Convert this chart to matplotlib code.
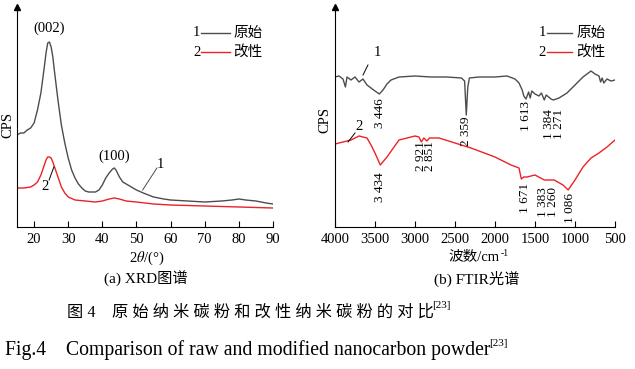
import matplotlib.pyplot as plt

plt.rcParams['font.family'] = ['Liberation Serif', 'Noto Sans CJK SC']
plt.rcParams['mathtext.fontset'] = 'stix'

# XRD (a)
xrd_angle = [15, 16, 17, 18, 19, 20, 21, 22, 23, 23.5, 24, 24.5, 25, 25.5, 26, 27, 28, 29, 30,
             31, 32, 33, 34, 35, 36, 37, 38, 39, 40, 41, 42, 43, 43.5, 44, 45, 46, 47, 48,
             50, 52, 55, 58, 60, 65, 70, 75, 78, 80, 82, 85, 88, 90]
xrd_raw = [92, 94, 94, 97, 99, 104, 117, 134, 160, 174, 184, 185, 180, 170, 155, 127, 102, 84, 69,
           57, 49, 43, 39, 36, 35, 35, 35, 37, 42, 49, 54, 58, 59, 57, 50, 45, 43, 41,
           37, 34, 30, 28, 27, 26, 25, 26, 27, 28, 27, 26, 24, 23]
xrd_mod_angle = [15, 17, 19, 20, 21, 22, 23, 23.5, 24, 24.5, 25, 25.5, 26, 27, 28, 29, 30,
                 32, 35, 38, 40, 42, 43.5, 45, 47, 50, 55, 60, 70, 80, 90]
xrd_mod = [39, 39, 40, 42, 45, 52, 62, 67, 70, 70, 69, 65, 60, 50, 40, 34, 30,
           27, 26, 25, 26, 28, 29, 28, 26, 25, 23, 22, 21, 20, 19]

# FTIR (b)
ir_raw_wn = [4000, 3950, 3900, 3870, 3850, 3800, 3750, 3700, 3650, 3600, 3550, 3500, 3446, 3400,
             3350, 3300, 3200, 3000, 2800, 2600, 2420, 2380, 2359, 2340, 2320, 2200, 2000, 1850,
             1750, 1700, 1660, 1640, 1613, 1580, 1560, 1540, 1500, 1450, 1420, 1384, 1360, 1300,
             1271, 1200, 1100, 1000, 900, 800, 750, 700, 680, 660, 640, 600, 550, 500]
ir_raw = [150, 151, 148, 140, 150, 147, 150, 145, 148, 142, 139, 136, 133, 137,
          143, 147, 150, 151, 150, 150, 149, 146, 112, 140, 149, 150, 150, 151,
          148, 144, 137, 131, 128, 135, 129, 136, 133, 131, 134, 127, 132, 128,
          127, 129, 134, 142, 150, 156, 153, 151, 145, 149, 144, 148, 146, 147]
ir_mod_wn = [4000, 3900, 3800, 3700, 3650, 3600, 3550, 3500, 3434, 3350, 3200, 3000, 2950, 2921,
             2890, 2851, 2820, 2700, 2500, 2300, 2000, 1800, 1700, 1671, 1640, 1600, 1500, 1383,
             1260, 1150, 1086, 1000, 900, 800, 700, 600, 500]
ir_mod = [83, 85, 87, 91, 90, 89, 82, 74, 62, 70, 87, 91, 90, 85,
          89, 86, 89, 89, 84, 79, 70, 62, 59, 48, 50, 50, 52, 47,
          47, 42, 37, 47, 60, 69, 74, 80, 87]

# peak labels (close pairs stacked in one label): text, x position (cm-1), centre height
ir_peaks_raw = ["3 446", "2 359", "1 613", "1 384\n1 271"]
ir_peaks_raw_pos = [3437, 2359, 1612, 1262]
ir_peaks_raw_y = [114, 96, 111, 103]
ir_peaks_mod = ["3 434", "2 921\n2 851", "1 671", "1 383\n1 260", "1 086"]
ir_peaks_mod_pos = [3434, 2870, 1625, 1337, 1062]
ir_peaks_mod_y = [40, 71, 29, 25, 19]

gray = '#4d4d4d'
red = '#ec2227'
fs = 10.5

fig = plt.figure(figsize=(6.35, 3.69), dpi=100)
ax1 = fig.add_axes([17/635, 142/369, 256/635, 220/369])
ax2 = fig.add_axes([335/635, 142/369, 280/635, 220/369])

for ax in (ax1, ax2):
    ax.spines['top'].set_visible(False)
    ax.spines['right'].set_visible(False)
    ax.spines['left'].set_linewidth(0.8)
    ax.spines['bottom'].set_linewidth(0.8)
    ax.set_yticks([])
    ax.set_ylim(0, 220)
    ax.tick_params(axis='x', direction='in', length=4, width=0.8, labelsize=fs, pad=4)
    ax.plot(0, 1, marker='^', color='black', markersize=5, transform=ax.transAxes, clip_on=False)

# ---- XRD ----
ax1.plot(xrd_angle, xrd_raw, color=gray, lw=1.0)
ax1.plot(xrd_mod_angle, xrd_mod, color=red, lw=1.0)
ax1.set_xlim(15, 90)
ax1.set_xticks(range(20, 91, 10))
ax1.text(24.5, 192, "(002)", ha='center', va='bottom', fontsize=fs)
ax1.text(43.5, 64, "(100)", ha='center', va='bottom', fontsize=fs)
ax1.plot([56, 51.8], [59, 37], color=gray, lw=0.7)
ax1.text(57, 63, "1", ha='center', va='center', fontsize=fs)
ax1.plot([24.4, 25.8], [47, 60], color='black', lw=0.7)
ax1.text(23.2, 40, "2", ha='center', va='center', fontsize=fs)
# legend
ax1.text(67.7, 194, "1", ha='center', va='center', fontsize=fs)
ax1.plot([69, 77.4], [194, 194], color=gray, lw=1.0)
ax1.text(78.3, 194, "原始", ha='left', va='center', fontsize=fs)
ax1.text(67.7, 175, "2", ha='center', va='center', fontsize=fs)
ax1.plot([69, 77.4], [175, 175], color=red, lw=1.0)
ax1.text(78.3, 175, "改性", ha='left', va='center', fontsize=fs)

# ---- FTIR ----
ax2.plot(ir_raw_wn, ir_raw, color=gray, lw=1.0)
ax2.plot(ir_mod_wn, ir_mod, color=red, lw=1.0)
ax2.set_xlim(4000, 500)
ax2.set_xticks(range(4000, 499, -500))
for lab, w, y in zip(ir_peaks_raw, ir_peaks_raw_pos, ir_peaks_raw_y):
    ax2.text(w, y, lab, rotation=90, ha='center', va='center', fontsize=9.5, linespacing=0.75)
for lab, w, y in zip(ir_peaks_mod, ir_peaks_mod_pos, ir_peaks_mod_y):
    ax2.text(w, y, lab, rotation=90, ha='center', va='center', fontsize=9.5, linespacing=0.75)
ax2.plot([3588, 3650], [162, 152], color='black', lw=0.7)
ax2.text(3475, 174, "1", ha='center', va='center', fontsize=fs)
ax2.plot([3750, 3837], [94, 85], color='black', lw=0.7)
ax2.text(3700, 100, "2", ha='center', va='center', fontsize=fs)
ax2.text(1412, 194, "1", ha='center', va='center', fontsize=fs)
ax2.plot([1350, 1037], [194, 194], color=gray, lw=1.0)
ax2.text(987, 194, "原始", ha='left', va='center', fontsize=fs)
ax2.text(1412, 175, "2", ha='center', va='center', fontsize=fs)
ax2.plot([1350, 1037], [175, 175], color=red, lw=1.0)
ax2.text(987, 175, "改性", ha='left', va='center', fontsize=fs)

# axis labels and captions
fig.text(8/635, 1 - 125/369, "CPS", rotation=90, ha='center', va='center', fontsize=fs)
fig.text(325/635, 1 - 120/369, "CPS", rotation=90, ha='center', va='center', fontsize=fs)
fig.text(147/635, 1 - 258/369, r"2$\theta$/(°)", ha='center', va='center', fontsize=fs)
fig.text(500/635, 1 - 258/369, "波数/cm", ha='right', va='center', fontsize=fs)
fig.text(500.5/635, 1 - 254/369, "-1", ha='left', va='center', fontsize=7)
fig.text(146/635, 1 - 279/369, "(a) XRD图谱", ha='center', va='center', fontsize=11)
fig.text(477/635, 1 - 279/369, "(b) FTIR光谱", ha='center', va='center', fontsize=11)

fig.text(67/635, 1 - 313/369, "图 4    原 始 纳 米 碳 粉 和 改 性 纳 米 碳 粉 的 对 比",
         ha='left', va='center', fontsize=11.7)
fig.text(432/635, 1 - 306/369, "[23]", ha='left', va='center', fontsize=8)
fig.text(5/635, 1 - 350/369, "Fig.4    Comparison of raw and modified nanocarbon powder",
         ha='left', va='center', fontsize=14.2)
fig.text(489/635, 1 - 343/369, "[23]", ha='left', va='center', fontsize=8)

fig.savefig("out.png", dpi=100)
